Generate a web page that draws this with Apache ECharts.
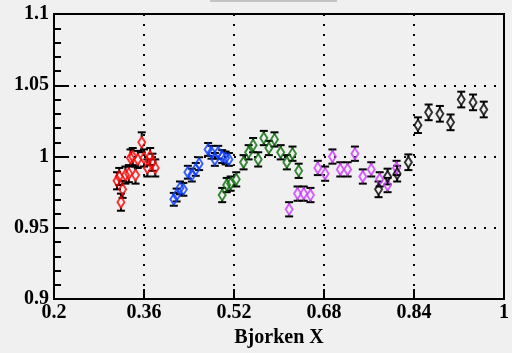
<!DOCTYPE html>
<html>
<head>
<meta charset="utf-8">
<script src="https://cdn.jsdelivr.net/npm/echarts@6/dist/echarts.min.js"></script>
<style>
  html, body { margin: 0; padding: 0; background: #f0f0f0; }
  #main { width: 512px; height: 353px; }
</style>
</head>
<body>
<div id="main"></div>
<script>
// x axis ticks (axis drawn in tick-step units so ticks land on 0.2, 0.36, ...)
var xTickLabels = ['0.2', '0.36', '0.52', '0.68', '0.84', '1'];
var xStart = 0.2;
var xStep = 0.16;

// red
var redX = [0.312, 0.316, 0.319, 0.322, 0.327, 0.333, 0.336, 0.340, 0.345, 0.349, 0.356, 0.360, 0.366, 0.371, 0.375, 0.380];
var redY = [0.983, 0.986, 0.968, 0.977, 0.987, 0.988, 0.999, 1.000, 0.987, 0.998, 1.010, 0.999, 0.992, 1.000, 0.996, 0.992];
var redErr = [0.006, 0.006, 0.006, 0.006, 0.006, 0.006, 0.006, 0.006, 0.006, 0.006, 0.007, 0.006, 0.006, 0.006, 0.006, 0.006];

// blue
var blueX = [0.413, 0.418, 0.424, 0.430, 0.438, 0.445, 0.452, 0.458, 0.474, 0.480, 0.486, 0.492, 0.499, 0.505, 0.511];
var blueY = [0.970, 0.973, 0.978, 0.977, 0.989, 0.987, 0.991, 0.995, 1.005, 1.003, 0.998, 1.003, 1.000, 0.999, 0.998];
var blueErr = [0.0045, 0.0045, 0.0045, 0.0045, 0.0045, 0.0045, 0.0045, 0.0045, 0.0045, 0.0045, 0.0045, 0.0045, 0.0045, 0.0045, 0.0045];

// green
var greenX = [0.499, 0.507, 0.514, 0.524, 0.537, 0.546, 0.554, 0.563, 0.573, 0.582, 0.592, 0.603, 0.614, 0.624, 0.635];
var greenY = [0.973, 0.980, 0.981, 0.984, 0.996, 1.003, 1.008, 0.998, 1.013, 1.006, 1.012, 1.003, 0.996, 1.002, 0.990];
var greenErr = [0.005, 0.005, 0.005, 0.005, 0.005, 0.005, 0.005, 0.005, 0.005, 0.005, 0.005, 0.005, 0.005, 0.005, 0.005];

// magenta
var magX = [0.618, 0.633, 0.644, 0.656, 0.669, 0.682, 0.695, 0.709, 0.722, 0.735, 0.749, 0.764, 0.779, 0.793, 0.809];
var magY = [0.963, 0.974, 0.974, 0.973, 0.992, 0.988, 1.000, 0.991, 0.991, 1.002, 0.986, 0.991, 0.984, 0.980, 0.992];
var magErr = [0.005, 0.005, 0.005, 0.005, 0.005, 0.005, 0.005, 0.005, 0.005, 0.005, 0.005, 0.005, 0.005, 0.005, 0.005];

// black
var blackX = [0.777, 0.793, 0.810, 0.830, 0.847, 0.866, 0.886, 0.905, 0.924, 0.945, 0.964];
var blackY = [0.977, 0.986, 0.988, 0.996, 1.022, 1.031, 1.030, 1.024, 1.040, 1.038, 1.033];
var blackErr = [0.0055, 0.0055, 0.0055, 0.0055, 0.0055, 0.0055, 0.0055, 0.0055, 0.0055, 0.0055, 0.0055];

var groups = [
  {x: redX, y: redY, err: redErr, color: '#ff0000'},
  {x: blueX, y: blueY, err: blueErr, color: '#0a3cff'},
  {x: greenX, y: greenY, err: greenErr, color: '#0b6b0b'},
  {x: magX, y: magY, err: magErr, color: '#cc3cff'},
  {x: blackX, y: blackY, err: blackErr, color: '#000000'}
];

var font = 'Liberation Serif';

function toAxis(x) { return (x - xStart) / xStep; }

function errBar(params, api) {
  var x = api.value(0), y = api.value(1), e = api.value(2);
  var c = api.coord([x, y]);
  var hi = api.coord([x, y + e]);
  var lo = api.coord([x, y - e]);
  var half = 5, cap = 4;
  var st = {stroke: '#000', lineWidth: 2};
  var kids = [
    {type: 'line', shape: {x1: c[0] - cap, y1: hi[1], x2: c[0] + cap, y2: hi[1]}, style: st},
    {type: 'line', shape: {x1: c[0] - cap, y1: lo[1], x2: c[0] + cap, y2: lo[1]}, style: st}
  ];
  if (hi[1] < c[1] - half) kids.push({type: 'line', shape: {x1: c[0], y1: hi[1], x2: c[0], y2: c[1] - half}, style: st});
  if (lo[1] > c[1] + half) kids.push({type: 'line', shape: {x1: c[0], y1: c[1] + half, x2: c[0], y2: lo[1]}, style: st});
  return {type: 'group', children: kids};
}

var series = [];
groups.forEach(function (g) {
  var pts = g.x.map(function (x, i) { return [toAxis(x), g.y[i], g.err[i]]; });
  series.push({
    type: 'custom',
    renderItem: errBar,
    data: pts,
    encode: {x: 0, y: 1},
    z: 2
  });
  series.push({
    type: 'scatter',
    data: pts.map(function (p) { return [p[0], p[1]]; }),
    symbol: 'diamond',
    symbolSize: [7, 11],
    itemStyle: {color: 'rgba(0,0,0,0)', borderColor: g.color, borderWidth: 2},
    z: 3
  });
});

var chart = echarts.init(document.getElementById('main'));
chart.setOption({
  animation: false,
  backgroundColor: '#f0f0f0',
  graphic: [
    {type: 'rect', left: 210, top: 0, shape: {width: 127, height: 2}, style: {fill: '#c4c4c4'}}
  ],
  grid: {
    left: 54, right: 1, top: 14, bottom: 52,
    show: true, borderColor: '#000', borderWidth: 2, backgroundColor: 'transparent'
  },
  xAxis: {
    type: 'value',
    min: 0, max: xTickLabels.length - 1, interval: 1,
    name: 'Bjorken X',
    nameLocation: 'middle',
    nameGap: 27,
    nameTextStyle: {fontFamily: font, fontWeight: 'bold', fontSize: 20, color: '#000'},
    axisLine: {show: true, onZero: false, lineStyle: {color: '#000', width: 2}},
    axisTick: {show: true, inside: true, length: 10, lineStyle: {color: '#000', width: 2}},
    axisLabel: {
      margin: 4, fontFamily: font, fontWeight: 'bold', fontSize: 20, color: '#000',
      formatter: function (v) { return xTickLabels[Math.round(v)]; }
    },
    splitLine: {
      show: true,
      lineStyle: {color: '#000', width: 2, type: [2, 8]}
    }
  },
  yAxis: {
    type: 'value',
    min: 0.9, max: 1.1, interval: 0.05,
    axisLine: {show: true, lineStyle: {color: '#000', width: 2}},
    axisTick: {show: true, inside: true, length: 15, lineStyle: {color: '#000', width: 2}},
    minorTick: {show: true, splitNumber: 5, length: 7, lineStyle: {color: '#000', width: 2}},
    axisLabel: {
      margin: 5, fontFamily: font, fontWeight: 'bold', fontSize: 20, color: '#000',
      formatter: function (v) { return String(parseFloat(v.toFixed(2))); }
    },
    splitLine: {
      show: true,
      lineStyle: {color: '#000', width: 2, type: [2, 8]}
    }
  },
  series: series
});
</script>
</body>
</html>
